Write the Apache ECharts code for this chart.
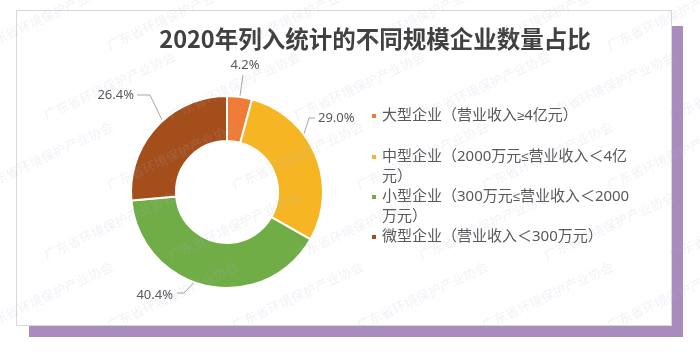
<!DOCTYPE html>
<html>
<head>
<meta charset="utf-8">
<script src="https://cdn.jsdelivr.net/npm/echarts@6/dist/echarts.min.js"></script>
<style>
html,body{margin:0;padding:0;background:#fff;}
#main{width:700px;height:357px;}
</style>
</head>
<body>
<div id="main"></div>
<script>
// ---- data ----
var titleText = '2020年列入统计的不同规模企业数量占比';
var categories = [
  '大型企业（营业收入≥4亿元）',
  '中型企业（2000万元≤营业收入＜4亿元）',
  '小型企业（300万元≤营业收入＜2000万元）',
  '微型企业（营业收入＜300万元）'
];
var legendLines = [
  ['大型企业（营业收入≥4亿元）'],
  ['中型企业（2000万元≤营业收入＜4亿', '元）'],
  ['小型企业（300万元≤营业收入＜2000', '万元）'],
  ['微型企业（营业收入＜300万元）']
];
var values = [4.2, 29.0, 40.4, 26.4];
var colors = ['#EE7B36', '#F6B624', '#71AD47', '#A44E1B'];
var watermarkText = '广东省环境保护产业协会';

// ---- layout (not data) ----
var CX = 227, CY = 192, R_IN = 51, R_OUT = 96;
var labelPlace = [
  {dx: 18,  dy: -127, align: 'center', bend: [[16, -117], [16, -117]]},
  {dx: 91,  dy: -74,  align: 'left',   bend: [[82, -74], [88, -74]]},
  {dx: -54, dy: 103,  align: 'right',  bend: [[-43, 101], [-50, 101]]},
  {dx: -93, dy: -97,  align: 'right',  bend: [[-77, -97], [-90, -97]]}
];
var legendIconY = [116, 157, 197, 237];

function richLine(s) {
  return s.replace(/([≤≥])/g, '{m|$1}');
}

var chart = echarts.init(document.getElementById('main'), null, {renderer: 'canvas'});

var baseFont = '"Noto Sans", "Noto Sans CJK SC", sans-serif';
var legends = categories.map(function (name, i) {
  var lines = legendLines[i];
  var multi = lines.length > 1;
  return {
    orient: 'vertical',
    left: 365,
    top: legendIconY[i] - 15 - (multi ? 20 : 0),
    icon: 'rect',
    itemWidth: 6,
    itemHeight: 6,
    padding: 5,
    selectedMode: false,
    formatter: function () {
      var ls = lines.map(richLine);
      return multi ? '\n' + ls.join('\n') : ls[0];
    },
    textStyle: {
      color: '#595959',
      fontSize: 15,
      lineHeight: 20,
      fontFamily: baseFont,
      rich: {
        m: {
          color: '#595959',
          fontSize: 13,
          lineHeight: 20,
          fontFamily: '"Liberation Sans", "DejaVu Sans", sans-serif'
        }
      }
    },
    data: [name]
  };
});

var graphics = [];
graphics.push({type: 'rect', shape: {x: 672, y: 26, width: 11, height: 311}, style: {fill: '#AA8BBE'}, z: -10});
graphics.push({type: 'rect', shape: {x: 29, y: 326, width: 654, height: 11}, style: {fill: '#AA8BBE'}, z: -10});
graphics.push({type: 'rect', shape: {x: 16.5, y: 10.5, width: 655, height: 315}, style: {fill: '#fff', stroke: '#D9D9D9', lineWidth: 1}, z: -9});
for (var r = 0; r < 5; r++) {
  for (var c = 0; c < 6; c++) {
    graphics.push({
      type: 'text',
      x: -20 + c * 125 + (r % 2) * 62,
      y: 40 + r * 70,
      rotation: Math.PI * 25 / 180,
      style: {
        text: watermarkText,
        fill: 'rgba(170,185,210,0.18)',
        fontSize: 13,
        fontFamily: '"Noto Sans CJK SC", sans-serif'
      },
      z: 100,
      silent: true
    });
  }
}

var option = {
  animation: false,
  color: colors,
  title: {
    text: titleText,
    left: 370,
    top: 22,
    textAlign: 'center',
    textStyle: {
      color: '#404040',
      fontSize: 23.5,
      fontWeight: 'bold',
      fontFamily: '"Noto Sans CJK SC", "Noto Sans", sans-serif'
    }
  },
  legend: legends,
  graphic: graphics,
  series: [{
    type: 'pie',
    center: [CX, CY],
    radius: [R_IN, R_OUT],
    startAngle: 90,
    clockwise: true,
    avoidLabelOverlap: false,
    itemStyle: {borderColor: '#fff', borderWidth: 2},
    label: {
      show: true,
      position: 'outside',
      formatter: function (p) { return p.value.toFixed(1) + '%'; },
      color: '#595959',
      fontSize: 13,
      fontFamily: '"Noto Sans", sans-serif'
    },
    labelLine: {
      show: true,
      length: 10,
      length2: 10,
      lineStyle: {color: '#A6A6A6', width: 1}
    },
    labelLayout: function (params) {
      var i = params.dataIndex;
      var lp = labelPlace[i];
      var pts = params.labelLinePoints;
      var p0 = pts ? pts[0] : [CX, CY];
      var k = (R_IN + R_OUT) / 2 / R_OUT;
      var start = [CX + (p0[0] - CX) * k, CY + (p0[1] - CY) * k];
      return {
        x: CX + lp.dx,
        y: CY + lp.dy,
        align: lp.align,
        verticalAlign: 'middle',
        labelLinePoints: [
          start,
          [CX + lp.bend[0][0], CY + lp.bend[0][1]],
          [CX + lp.bend[1][0], CY + lp.bend[1][1]]
        ]
      };
    },
    emphasis: {disabled: true},
    data: categories.map(function (name, i) { return {name: name, value: values[i]}; })
  }]
};
chart.setOption(option);
</script>
</body>
</html>
